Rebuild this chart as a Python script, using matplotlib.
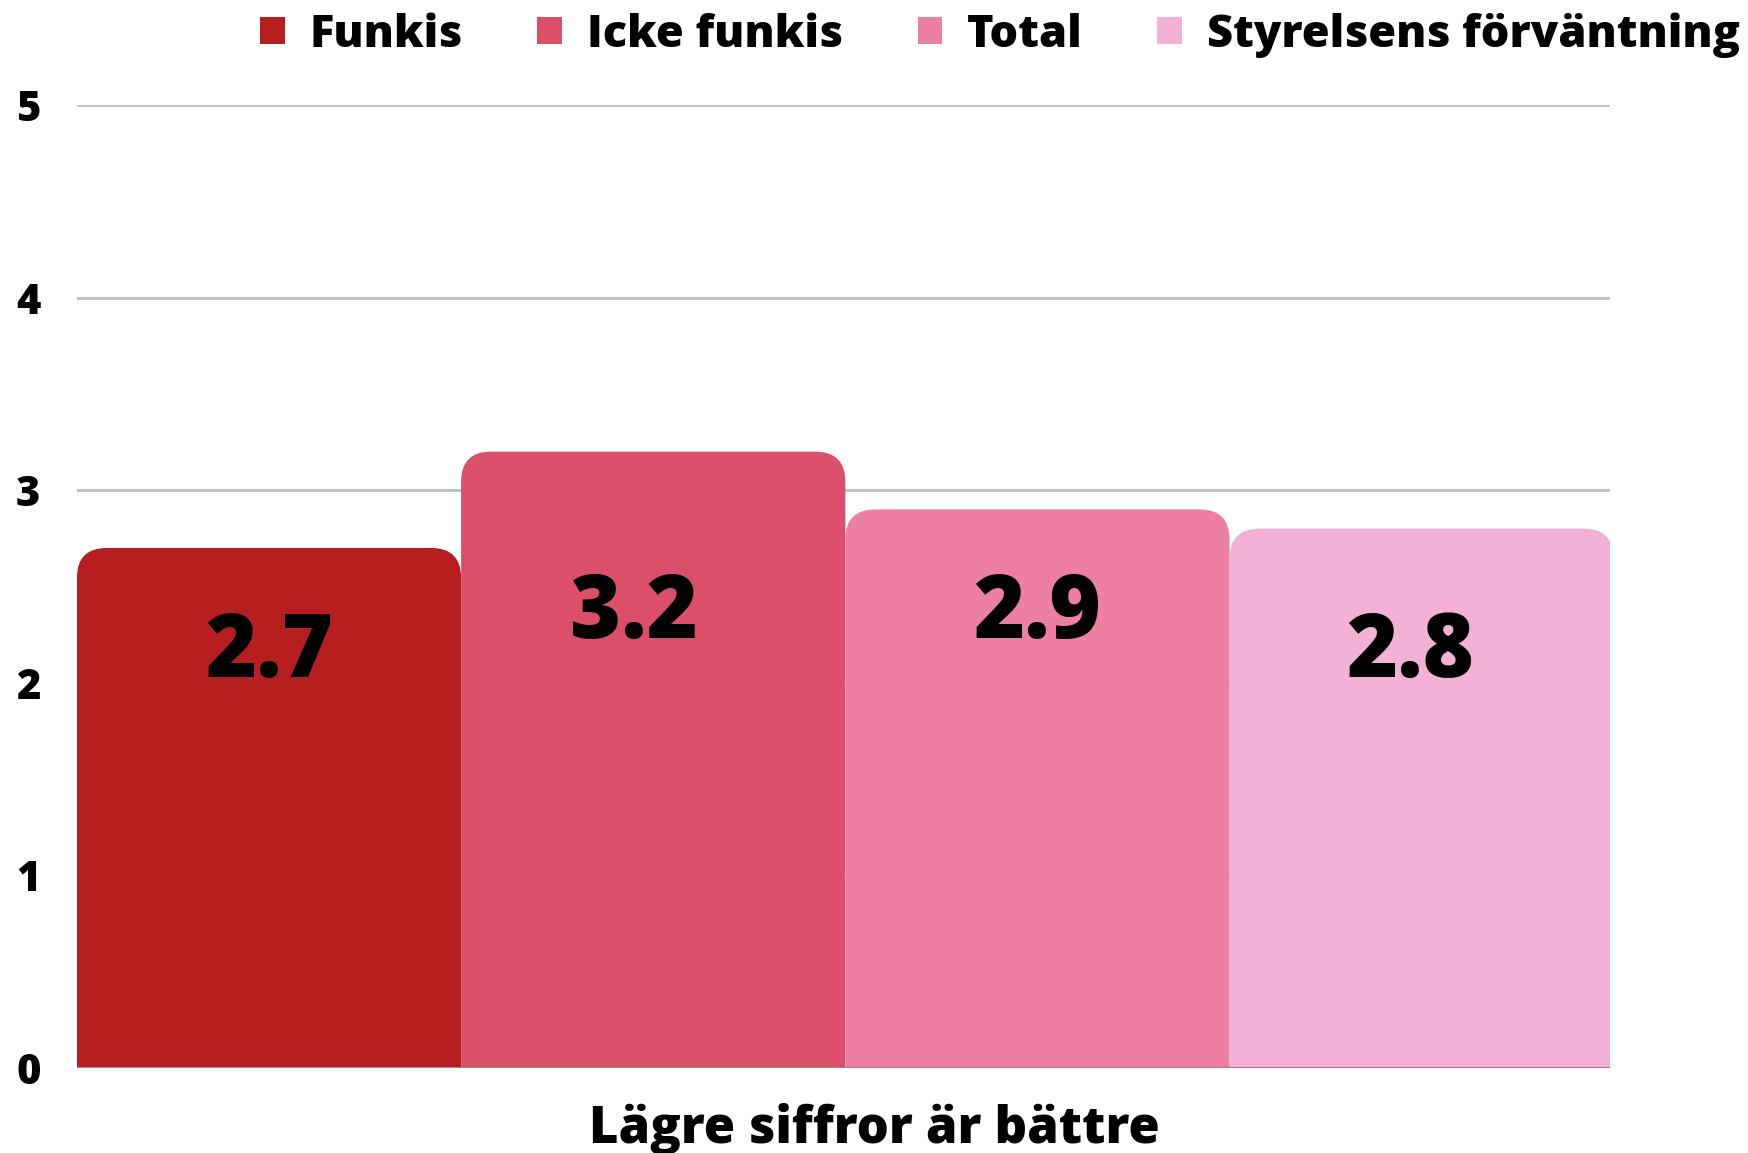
import numpy as np
import matplotlib
matplotlib.use("Agg")
import matplotlib.pyplot as plt
from matplotlib.patches import FancyBboxPatch, Patch

plt.rcParams['font.family'] = ['Open Sans', 'DejaVu Sans']
W = "heavy"

# data
series = ["Funkis", "Icke funkis", "Total", "Styrelsens förväntning"]
values = [2.7, 3.2, 2.9, 2.8]
labels = ["2.7", "3.2", "2.9", "2.8"]
colors = ["#b71e1f", "#db5068", "#ec7fa2", "#f4b1d6"]
yticks = [0, 1, 2, 3, 4, 5]
xlabel = "Lägre siffror är bättre"

# where the value labels sit (offset from bar centre, height)
label_dx = [0.0, -0.05, 0.0, -0.03]
label_y = [2.15, 2.35, 2.35, 2.15]

fig = plt.figure(figsize=(17.48, 11.53), dpi=100)
ax = fig.add_axes([0.044, 0.0737, 0.877, 0.8353])

x = np.arange(len(values))
bars = ax.bar(x, values, width=1.0, align="edge", color=colors, zorder=2)

ax.set_xlim(0, 3.99)
ax.set_ylim(0, 5)

# swap plain rectangles for ones with rounded tops
px_x = 0.877 * 1748 / 3.99
px_y = 0.8353 * 1153 / 5
r = 30
for b, c in zip(bars, colors):
    b.set_visible(False)
    p = FancyBboxPatch((b.get_x(), -1), b.get_width(), b.get_height() + 1,
                       boxstyle="round,pad=0,rounding_size=%f" % (r / px_x),
                       mutation_aspect=px_x / px_y,
                       facecolor=c, edgecolor="none", zorder=2)
    ax.add_patch(p)

for xi, dx, ly, t in zip(x, label_dx, label_y, labels):
    ax.text(xi + 0.5 + dx, ly, t, ha="center", va="center", fontsize=63,
            fontweight=W, color="black", zorder=3)

ax.set_yticks(yticks)
ax.set_xticks([])
for sp in ax.spines.values():
    sp.set_visible(False)
ax.grid(axis="y", color="#c0c0c0", linewidth=2, zorder=1)
ax.axhline(0, color="#b07a8a", linewidth=1.5, zorder=3)
ax.tick_params(axis="y", length=0, pad=35, labelsize=30)
for lab in ax.get_yticklabels():
    lab.set_fontweight(W)
    lab.set_horizontalalignment("center")

fig.text(0.5, 1 - 1129 / 1153, xlabel, ha="center", va="center",
         fontsize=36.5, fontweight=W)

handles = [Patch(facecolor=c, edgecolor="none") for c in colors]
fig.legend(handles, series, loc="center left",
           bbox_to_anchor=(260 / 1748, 1 - 35 / 1153), ncol=4, frameon=False,
           prop={"size": 32.5, "weight": W}, handlelength=0.55,
           handleheight=0.55, handletextpad=0.55, columnspacing=1.65,
           borderaxespad=0, borderpad=0)

fig.savefig("out.png", dpi=100)
